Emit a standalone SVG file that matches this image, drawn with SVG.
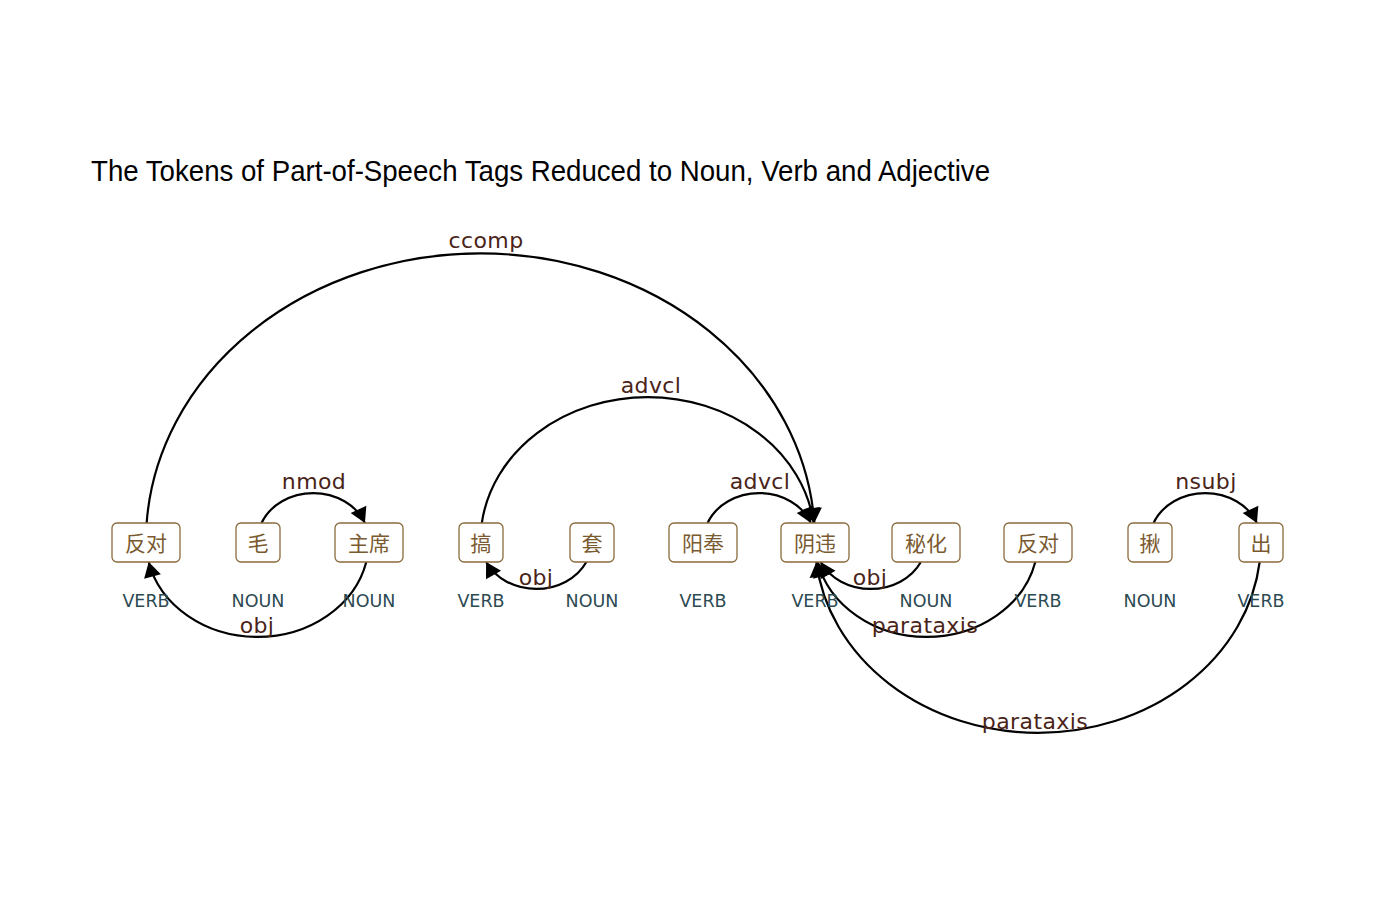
<svg xmlns="http://www.w3.org/2000/svg" width="1400" height="900" viewBox="0 0 1400 900">
<style>
.bg{fill:#ffffff}
.title{font-family:"Liberation Sans",Arial,sans-serif;font-size:30px;fill:#000000}
.box{fill:#ffffff;stroke:#8b6b3e;stroke-width:1.3}
.tok{font-family:"Noto Sans CJK SC","Noto Sans",sans-serif;font-size:21px;fill:#7a5a30;text-anchor:middle}
.pos{font-family:"DejaVu Sans","Noto Sans",sans-serif;font-size:17.5px;fill:#2c4a52;text-anchor:middle}
.edge{fill:none;stroke:#000000;stroke-width:2.2;marker-end:url(#arr)}
.lab{font-family:"DejaVu Sans","Noto Sans",sans-serif;font-size:22px;letter-spacing:0.4px;fill:#4a2418;text-anchor:middle}
</style>
<defs>
<marker id="arr" markerUnits="userSpaceOnUse" viewBox="0 0 15 17.32" refX="15" refY="8.66" markerWidth="15" markerHeight="17.32" orient="auto" overflow="visible">
<path d="M0,0 L15,8.66 L0,17.32 z" fill="#000000"/>
</marker>
</defs>
<rect class="bg" x="0" y="0" width="1400" height="900"/>
<text class="title" x="91" y="181" textLength="899" lengthAdjust="spacingAndGlyphs">The Tokens of Part-of-Speech Tags Reduced to Noun, Verb and Adjective</text>

<g id="connectors">
<path class="edge" d="M146.66,523 A334.5,287.67 0 0 1 814.34,523"/>
<path class="edge" d="M481.81,523 A167.25,143.835 0 0 1 813.69,523"/>
<path class="edge" d="M707.58,523 A55.75,47.945 0 0 1 810.92,523"/>
<path class="edge" d="M261.58,523 A55.75,47.945 0 0 1 364.92,523"/>
<path class="edge" d="M1153.58,523 A55.75,47.945 0 0 1 1256.92,523"/>
<path class="edge" d="M366.29,562 A111.5,95.89 0 0 1 148.71,562"/>
<path class="edge" d="M586.37,562 A55.75,47.945 0 0 1 486.13,562"/>
<path class="edge" d="M920.87,562 A55.75,47.945 0 0 1 820.63,562"/>
<path class="edge" d="M1035.29,562 A111.5,95.89 0 0 1 817.71,562"/>
<path class="edge" d="M1259.66,562 A223,191.78 0 0 1 816.34,562"/>
<text class="lab" x="486" y="248">ccomp</text>
<text class="lab" x="651" y="393">advcl</text>
<text class="lab" x="760" y="489">advcl</text>
<text class="lab" x="314" y="489">nmod</text>
<text class="lab" x="1206" y="489">nsubj</text>
<text class="lab" x="257" y="633">obj</text>
<text class="lab" x="536" y="585">obj</text>
<text class="lab" x="870" y="585">obj</text>
<text class="lab" x="925" y="633">parataxis</text>
<text class="lab" x="1035" y="729">parataxis</text>
</g>

<g id="n1"><rect class="box" x="112" y="523" width="68" height="39" rx="5"/><text class="tok" x="146" y="551">反对</text><text class="pos" x="146" y="607">VERB</text></g>
<g id="n2"><rect class="box" x="236" y="523" width="44" height="39" rx="5"/><text class="tok" x="258" y="551">毛</text><text class="pos" x="258" y="607">NOUN</text></g>
<g id="n3"><rect class="box" x="335" y="523" width="68" height="39" rx="5"/><text class="tok" x="369" y="551">主席</text><text class="pos" x="369" y="607">NOUN</text></g>
<g id="n4"><rect class="box" x="459" y="523" width="44" height="39" rx="5"/><text class="tok" x="481" y="551">搞</text><text class="pos" x="481" y="607">VERB</text></g>
<g id="n5"><rect class="box" x="570" y="523" width="44" height="39" rx="5"/><text class="tok" x="592" y="551">套</text><text class="pos" x="592" y="607">NOUN</text></g>
<g id="n6"><rect class="box" x="669" y="523" width="68" height="39" rx="5"/><text class="tok" x="703" y="551">阳奉</text><text class="pos" x="703" y="607">VERB</text></g>
<g id="n7"><rect class="box" x="781" y="523" width="68" height="39" rx="5"/><text class="tok" x="815" y="551">阴违</text><text class="pos" x="815" y="607">VERB</text></g>
<g id="n8"><rect class="box" x="892" y="523" width="68" height="39" rx="5"/><text class="tok" x="926" y="551">秘化</text><text class="pos" x="926" y="607">NOUN</text></g>
<g id="n9"><rect class="box" x="1004" y="523" width="68" height="39" rx="5"/><text class="tok" x="1038" y="551">反对</text><text class="pos" x="1038" y="607">VERB</text></g>
<g id="n10"><rect class="box" x="1128" y="523" width="44" height="39" rx="5"/><text class="tok" x="1150" y="551">揪</text><text class="pos" x="1150" y="607">NOUN</text></g>
<g id="n11"><rect class="box" x="1239" y="523" width="44" height="39" rx="5"/><text class="tok" x="1261" y="551">出</text><text class="pos" x="1261" y="607">VERB</text></g>
</svg>
